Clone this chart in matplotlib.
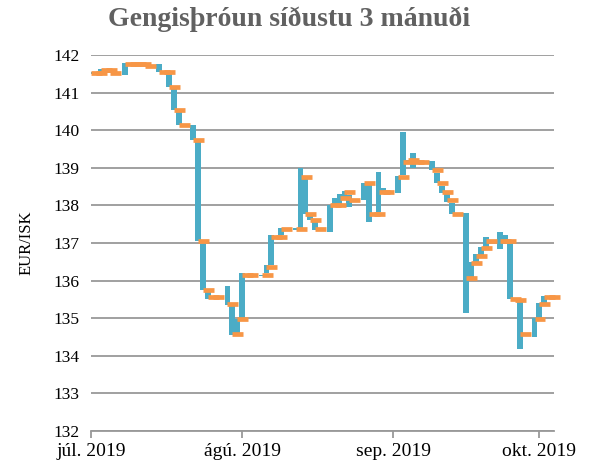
import matplotlib
matplotlib.use("Agg")
import matplotlib.pyplot as plt
import matplotlib.dates as mdates
import numpy as np
import datetime as dt

# ---- data ----
dates = [
    "2019-07-01", "2019-07-02", "2019-07-03", "2019-07-04", "2019-07-05",
    "2019-07-08", "2019-07-09", "2019-07-10", "2019-07-11", "2019-07-12",
    "2019-07-15", "2019-07-16", "2019-07-17", "2019-07-18", "2019-07-19",
    "2019-07-22", "2019-07-23", "2019-07-24", "2019-07-25", "2019-07-26",
    "2019-07-29", "2019-07-30", "2019-07-31", "2019-08-01", "2019-08-02",
    "2019-08-05", "2019-08-06", "2019-08-07", "2019-08-08", "2019-08-09",
    "2019-08-12", "2019-08-13", "2019-08-14", "2019-08-15", "2019-08-16",
    "2019-08-19", "2019-08-20", "2019-08-21", "2019-08-22", "2019-08-23",
    "2019-08-26", "2019-08-27", "2019-08-28", "2019-08-29", "2019-08-30",
    "2019-09-02", "2019-09-03", "2019-09-04", "2019-09-05", "2019-09-06",
    "2019-09-09", "2019-09-10", "2019-09-11", "2019-09-12", "2019-09-13",
    "2019-09-16", "2019-09-17", "2019-09-18", "2019-09-19", "2019-09-20",
    "2019-09-23", "2019-09-24", "2019-09-25", "2019-09-26", "2019-09-27",
    "2019-09-30", "2019-10-01", "2019-10-02", "2019-10-03",
]
low = [
    141.50, 141.52, 141.53, 141.58, 141.52,
    141.47, 141.75, 141.75, 141.75, 141.71,
    141.54, 141.52, 141.14, 140.54, 140.13,
    139.73, 137.04, 135.76, 135.50, 135.54,
    135.35, 134.55, 134.60, 135.00, 136.12,
    136.12, 136.19, 136.41, 137.13, 137.21,
    137.34, 137.36, 137.76, 137.60, 137.35,
    137.30, 138.00, 138.02, 138.20, 137.95,
    138.14, 137.57, 137.74, 137.82, 138.35,
    138.34, 138.80, 139.13, 139.00, 139.13,
    138.94, 138.59, 138.34, 138.10, 137.76,
    135.15, 136.02, 136.48, 136.68, 136.90,
    136.85, 136.99, 135.50, 135.46, 134.17,
    134.50, 135.00, 135.40, 135.54,
]
high = [
    141.56, 141.56, 141.62, 141.62, 141.60,
    141.79, 141.79, 141.79, 141.79, 141.77,
    141.75, 141.56, 141.50, 141.12, 140.48,
    140.14, 139.70, 136.98, 135.70, 135.60,
    135.86, 135.35, 134.97, 136.21, 136.16,
    136.16, 136.41, 137.21, 137.17, 137.41,
    137.40, 139.00, 138.76, 137.80, 137.60,
    138.00, 138.20, 138.30, 138.39, 138.28,
    138.60, 138.54, 137.78, 138.90, 138.45,
    138.78, 139.96, 139.22, 139.39, 139.17,
    139.19, 138.87, 138.52, 138.30, 138.07,
    137.79, 136.50, 136.71, 136.90, 137.15,
    137.29, 137.21, 137.00, 135.50, 135.44,
    135.00, 135.40, 135.59, 135.58,
]
close = [
    141.53, 141.53, 141.60, 141.60, 141.53,
    141.77, 141.77, 141.77, 141.77, 141.72,
    141.54, 141.54, 141.14, 140.54, 140.13,
    139.73, 137.04, 135.76, 135.56, 135.56,
    135.38, 134.57, 134.97, 136.14, 136.14,
    136.14, 136.35, 137.15, 137.15, 137.36,
    137.36, 138.75, 137.76, 137.60, 137.36,
    138.00, 138.00, 138.20, 138.35, 138.14,
    138.59, 137.76, 137.76, 138.35, 138.35,
    138.75, 139.15, 139.20, 139.15, 139.15,
    138.94, 138.59, 138.35, 138.14, 137.77,
    136.06, 136.46, 136.65, 136.87, 137.04,
    137.04, 137.04, 135.50, 135.48, 134.57,
    134.97, 135.37, 135.56, 135.56,
]
month_ticks = ["2019-07-01", "2019-08-01", "2019-09-01", "2019-10-01"]
month_labels = ["júl. 2019", "ágú. 2019", "sep. 2019", "okt. 2019"]
title = "Gengisþróun síðustu 3 mánuði"
ylabel = "EUR/ISK"

# ---- plot ----
serif = ["Liberation Serif", "DejaVu Serif"]
plt.rcParams["font.family"] = serif

x = mdates.date2num([dt.date.fromisoformat(d) for d in dates])
low = np.array(low); high = np.array(high); close = np.array(close)

fig = plt.figure(figsize=(5.9, 4.66), dpi=100)
ax = fig.add_axes([91/590, 1-431/466, (554-91)/590, (431-55)/466])

blue = "#4BACC6"
orange = "#F79646"
ax.bar(x, high - low, bottom=low, width=1.2, color=blue, zorder=3, linewidth=0)
ax.hlines(close, x, x + 2.25, colors=orange, linewidth=3.4, zorder=4, clip_on=False)

ax.set_ylim(132, 142)
ax.set_yticks(np.arange(132, 143, 1))
ax.set_xlim(mdates.date2num(dt.date(2019, 7, 1)), mdates.date2num(dt.date(2019, 10, 4)))
ax.set_xticks(mdates.date2num([dt.date.fromisoformat(d) for d in month_ticks]))
ax.set_xticklabels(month_labels)

ax.grid(axis="y", color="#999999", linewidth=1.3, zorder=0)
ax.set_axisbelow(True)
for s in ["top", "right", "left"]:
    ax.spines[s].set_visible(False)
ax.spines["bottom"].set_color("#999999")
ax.spines["bottom"].set_linewidth(1.3)
ax.tick_params(axis="y", length=0, labelsize=12.5, pad=8)
ax.tick_params(axis="x", length=5, color="#999999", width=1.3, labelsize=14, pad=4)

ax.set_ylabel(ylabel, fontsize=12, labelpad=14)
fig.text(0.49, 0.958, title, ha="center", va="center", fontsize=20,
         fontweight="bold", color="#616161")

fig.savefig("out.png", dpi=100)
